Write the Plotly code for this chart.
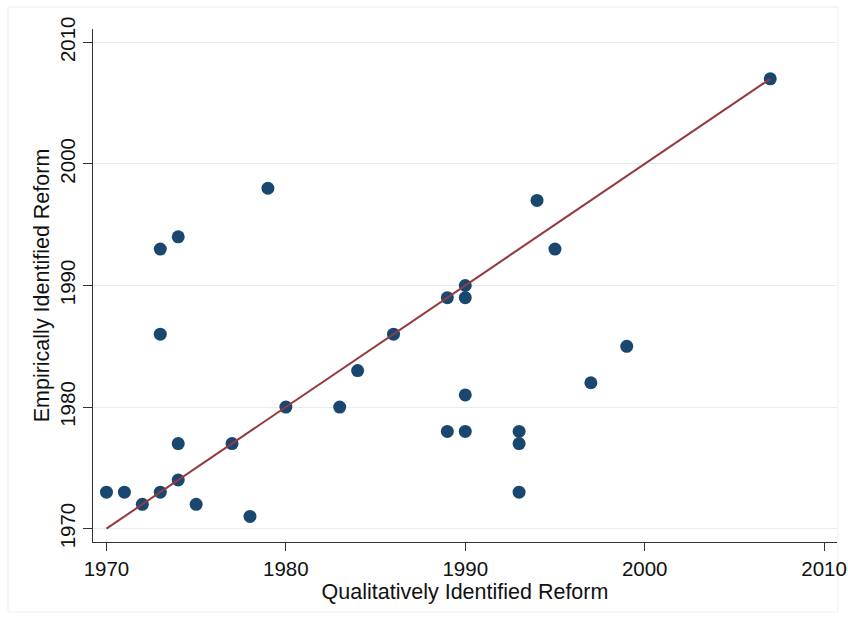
import plotly.graph_objects as go

# Data
qualitative = [1970, 1971, 1972, 1973, 1974, 1974, 1975, 1977, 1978, 1980,
               1973, 1973, 1974, 1979, 1983, 1984, 1986, 1989, 1990, 1990,
               1989, 1990, 1990, 1993, 1993, 1993, 1994, 1995, 1997, 1999, 2007]
empirical = [1973, 1973, 1972, 1973, 1974, 1977, 1972, 1977, 1971, 1980,
             1986, 1993, 1994, 1998, 1980, 1983, 1986, 1989, 1990, 1989,
             1978, 1978, 1981, 1978, 1977, 1973, 1997, 1993, 1982, 1985, 2007]
line_x = [1970, 2007]
line_y = [1970, 2007]
x_ticks = [1970, 1980, 1990, 2000, 2010]
y_ticks = [1970, 1980, 1990, 2000, 2010]

FONT = "Liberation Sans, Arial, sans-serif"

fig = go.Figure()
fig.add_trace(go.Scatter(
    x=qualitative, y=empirical, mode="markers",
    marker=dict(color="#1a476f", size=13, line=dict(width=0)),
    showlegend=False, hoverinfo="x+y"))
fig.add_trace(go.Scatter(
    x=line_x, y=line_y, mode="lines",
    line=dict(color="#943a3f", width=2),
    showlegend=False, hoverinfo="skip"))

fig.update_layout(
    width=848, height=618,
    margin=dict(l=93, r=11, t=29, b=76),
    paper_bgcolor="white", plot_bgcolor="white",
    font=dict(family=FONT, color="#111111", size=20),
    xaxis=dict(
        range=[1969.25, 2010.72], tickmode="array", tickvals=x_ticks,
        ticktext=[str(v) for v in x_ticks], automargin=False,
        showgrid=False, zeroline=False,
        showline=True, linecolor="#333333", linewidth=1.3,
        ticks="outside", ticklen=8, tickcolor="#333333", tickwidth=1.3,
        tickfont=dict(size=20.5, family=FONT, color="#111111"),
        title=dict(text="Qualitatively Identified Reform",
                   font=dict(size=21.5, family=FONT, color="#111111"), standoff=2),
    ),
    yaxis=dict(
        range=[1968.9, 2011.1], tickmode="array", tickvals=y_ticks,
        ticktext=[str(v) for v in y_ticks], automargin=False,
        showgrid=True, gridcolor="#e4ecef", gridwidth=1.3, zeroline=False,
        showline=True, linecolor="#333333", linewidth=1.3,
        ticks="outside", ticklen=9, tickcolor="#333333", tickwidth=1.3,
        tickangle=-90,
        tickfont=dict(size=20.5, family=FONT, color="#111111"),
        title=dict(text="Empirically Identified Reform",
                   font=dict(size=21.5, family=FONT, color="#111111"), standoff=0),
    ),
    shapes=[dict(type="rect", xref="paper", yref="paper",
                 x0=-0.1142, x1=1.0013, y0=-0.1365, y1=1.0429,
                 line=dict(color="#eeeeee", width=1), layer="below")],
)

fig.write_html("out.html")
